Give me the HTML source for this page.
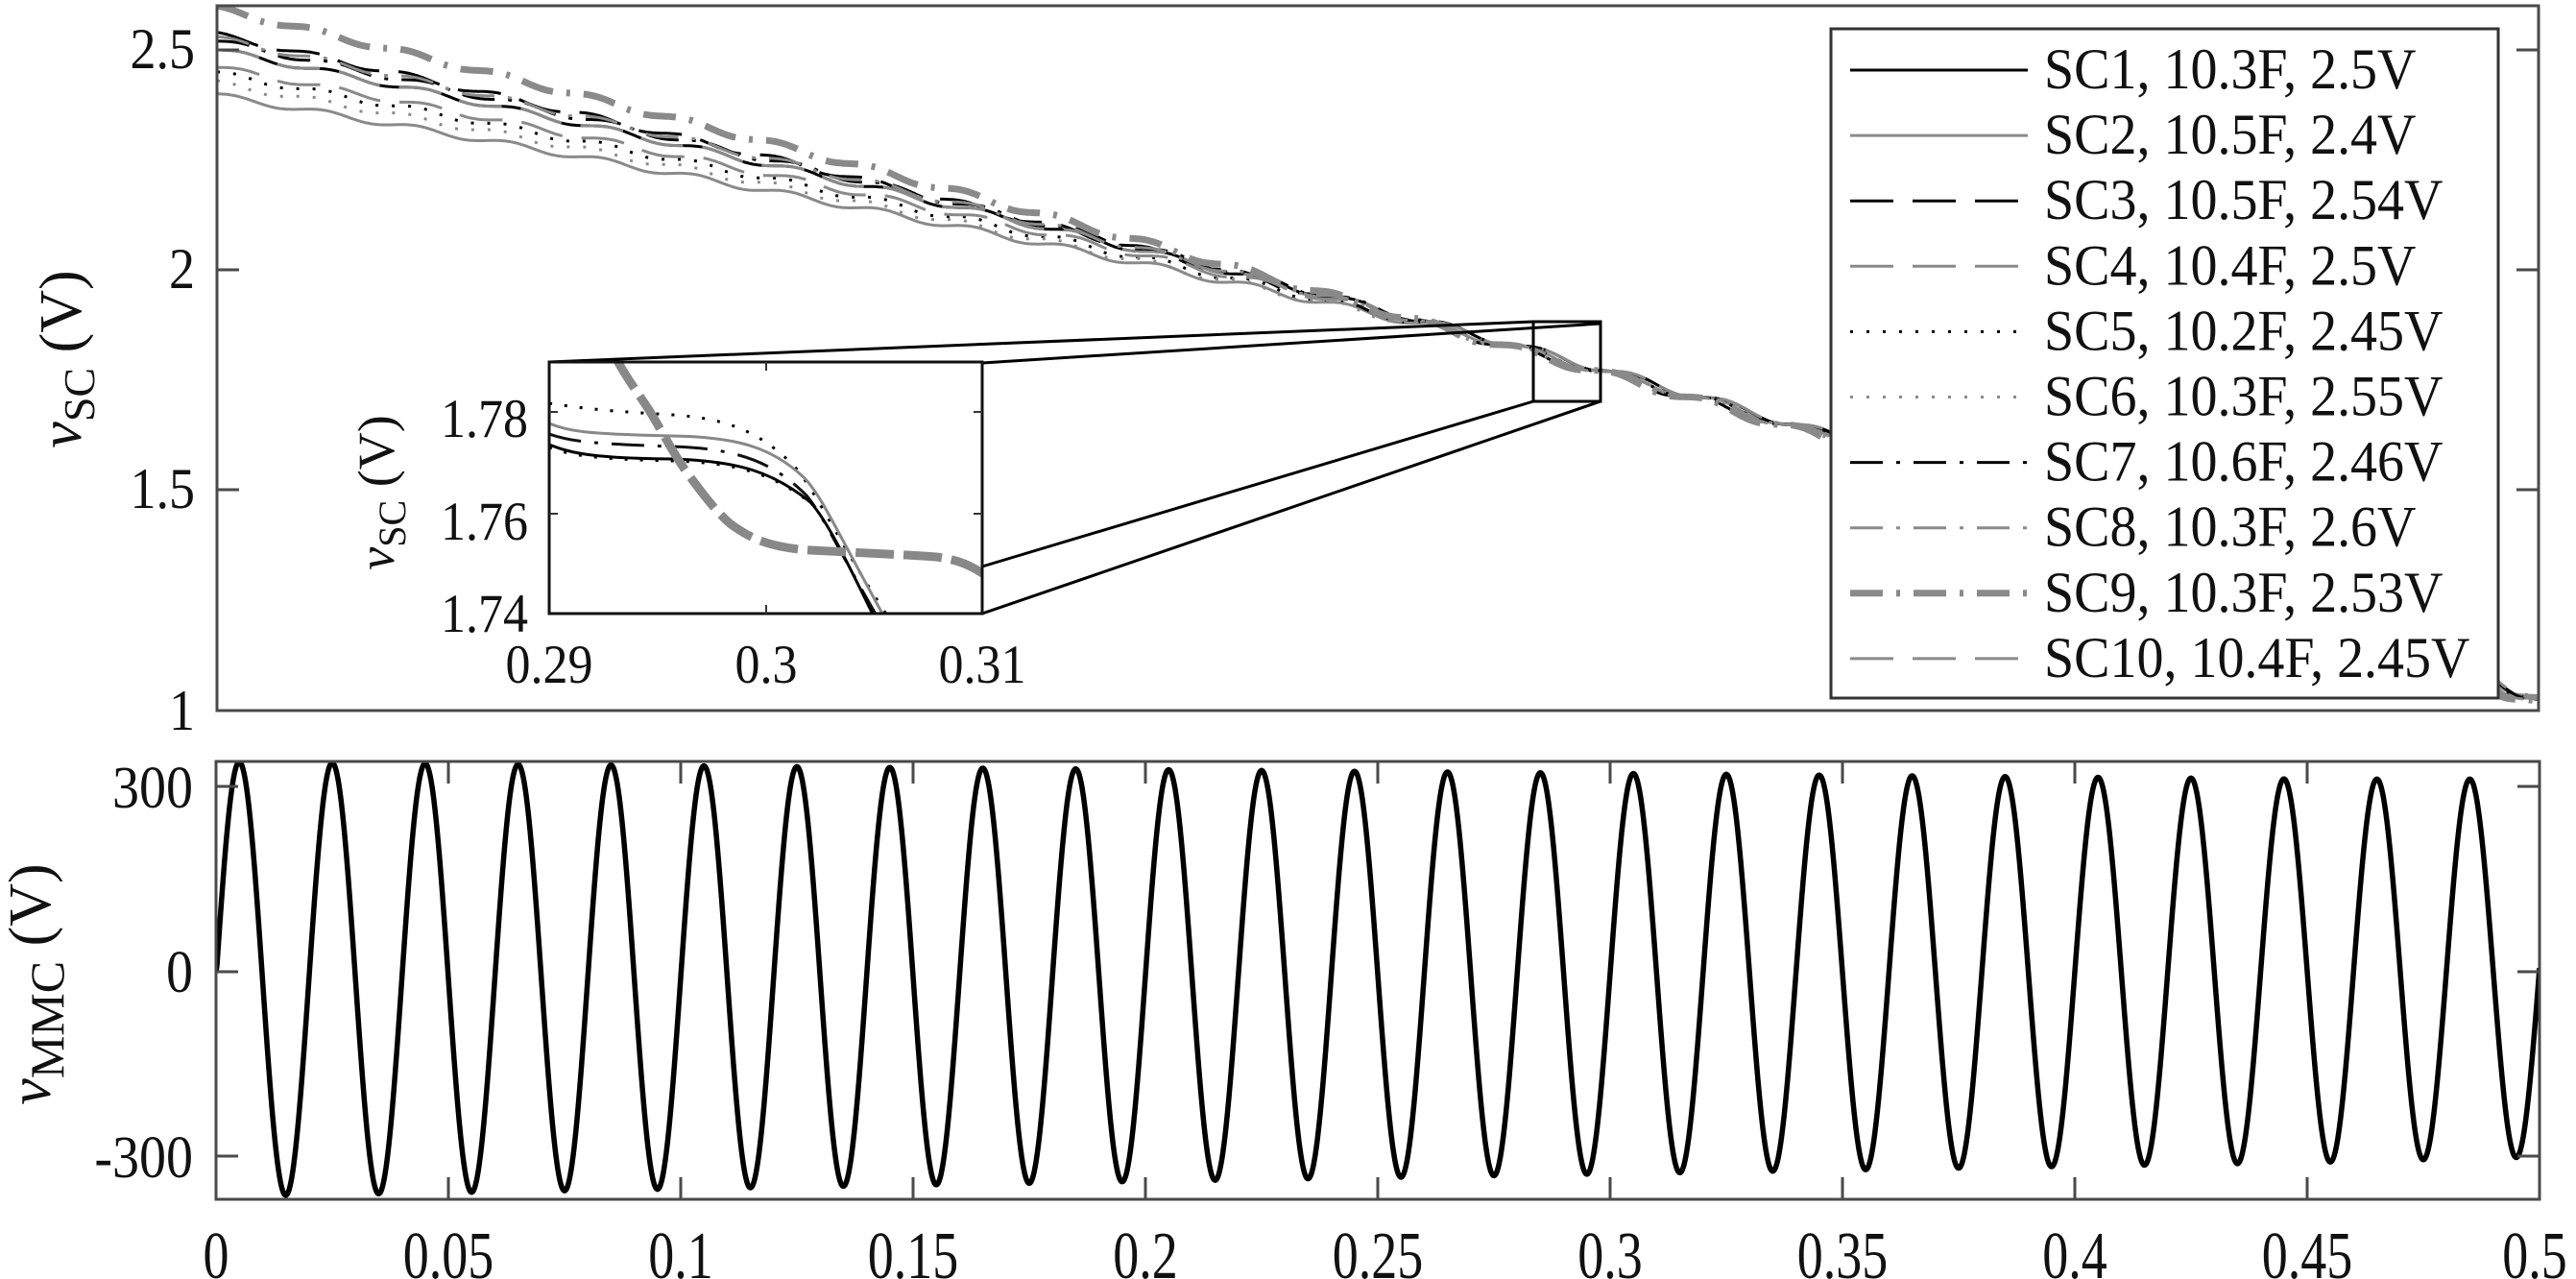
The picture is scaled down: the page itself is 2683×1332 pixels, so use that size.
<!DOCTYPE html>
<html><head><meta charset="utf-8"><style>
html,body{margin:0;padding:0;background:#fff;}
svg{display:block;}
text{font-family:"Liberation Serif",serif;fill:#111;}
</style></head><body>
<svg id="s" width="2683" height="1332" viewBox="0 0 2683 1332" xmlns="http://www.w3.org/2000/svg">
<defs>
<clipPath id="ctop"><rect x="226" y="6" width="2418" height="734"/></clipPath>
<clipPath id="cins"><rect x="572" y="377" width="451" height="262"/></clipPath>
<clipPath id="cbot"><rect x="225" y="793" width="2420" height="456"/></clipPath>
</defs>
<g id="topcurves" clip-path="url(#ctop)" fill="none"></g>
<rect x="226" y="6" width="2418" height="734" fill="none" stroke="#4a4a4a" stroke-width="3"/>
<g stroke="#4a4a4a" stroke-width="3">
<line x1="226" y1="52" x2="249" y2="52"/><line x1="226" y1="281" x2="249" y2="281"/><line x1="226" y1="510" x2="249" y2="510"/>
<line x1="2644" y1="52" x2="2621" y2="52"/><line x1="2644" y1="281" x2="2621" y2="281"/><line x1="2644" y1="510" x2="2621" y2="510"/>
</g>
<g font-size="54" text-anchor="end">
<text transform="translate(203,71) scale(1,1.12)">2.5</text>
<text transform="translate(203,300) scale(1,1.12)">2</text>
<text transform="translate(203,529) scale(1,1.12)">1.5</text>
<text transform="translate(203,760) scale(1,1.12)">1</text>
</g>
<text transform="translate(84,374) rotate(-90)" font-size="62" text-anchor="middle"><tspan font-style="italic">v</tspan><tspan font-size="46" dy="14">SC</tspan><tspan dy="-14"> (V)</tspan></text>

<g stroke="#000" stroke-width="3">
<line x1="572" y1="377" x2="1597" y2="335"/>
<line x1="1023" y1="378" x2="1667" y2="337"/>
<line x1="1023" y1="590" x2="1597" y2="418"/>
<line x1="1023" y1="639" x2="1667" y2="418"/>
</g>
<rect x="1597" y="335" width="70" height="83" fill="none" stroke="#000" stroke-width="3"/>

<rect x="572" y="377" width="451" height="262" fill="#fff"/>
<g clip-path="url(#cins)" fill="none" stroke-linecap="butt">
<path d="M572,420 C600,424 615,427 700,432 C760,436 790,450 825,483 C850,510 870,560 930,650" stroke="#000" stroke-width="3" stroke-dasharray="3,13"/>
<path d="M572,441 C595,450 615,452 700,454 C770,455 805,467 837,497 C855,515 870,550 925,650" stroke="#888" stroke-width="3"/>
<path d="M572,452 C595,460 615,462 700,465 C770,467 806,482 840,516 C856,535 872,570 918,650" stroke="#111" stroke-width="3" stroke-dasharray="34,14,4,14"/>
<path d="M572,463 C595,472 615,477 700,478 C770,480 806,492 844,523 C860,540 880,580 914,650" stroke="#000" stroke-width="3"/>
<path d="M572,466 C595,474 615,478 700,480 C770,482 806,494 846,525" stroke="#000" stroke-width="3" stroke-dasharray="3,13"/>
<path d="M640,370 C650,390 665,410 676,427 C690,450 700,470 714,490 C730,512 745,532 760,545 C780,560 800,570 844,573 C900,576 950,578 975,580 C1000,583 1012,590 1025,598" stroke="#888" stroke-width="9" stroke-dasharray="40,10"/>
</g>
<rect x="572" y="377" width="451" height="262" fill="none" stroke="#111" stroke-width="3"/>
<g stroke="#333" stroke-width="2">
<line x1="798" y1="377" x2="798" y2="386"/><line x1="798" y1="639" x2="798" y2="630"/>
<line x1="572" y1="429" x2="581" y2="429"/><line x1="572" y1="535" x2="581" y2="535"/>
<line x1="1023" y1="429" x2="1014" y2="429"/><line x1="1023" y1="535" x2="1014" y2="535"/>
</g>
<g font-size="52" text-anchor="end">
<text transform="translate(550,455) scale(1,1.1)">1.78</text>
<text transform="translate(550,562) scale(1,1.1)">1.76</text>
<text transform="translate(550,658) scale(1,1.1)">1.74</text>
</g>
<g font-size="52" text-anchor="middle">
<text transform="translate(572,711) scale(1,1.1)">0.29</text>
<text transform="translate(798,711) scale(1,1.1)">0.3</text>
<text transform="translate(1023,711) scale(1,1.1)">0.31</text>
</g>
<text transform="translate(410,513) rotate(-90)" font-size="54" text-anchor="middle"><tspan font-style="italic">v</tspan><tspan font-size="40" dy="12">SC</tspan><tspan dy="-12"> (V)</tspan></text>

<rect x="1907" y="30" width="695" height="697" fill="#fff" stroke="#333" stroke-width="3"/>
<g id="leg"></g>

<g clip-path="url(#cbot)"><path id="sine" fill="none" stroke="#000" stroke-width="5.5" stroke-linejoin="round"/></g>
<rect x="225" y="793" width="2420" height="456" fill="none" stroke="#4a4a4a" stroke-width="3"/>
<g id="bticks" stroke="#4a4a4a" stroke-width="3"></g>
<g font-size="56" text-anchor="end">
<text transform="translate(201,841) scale(1,1.12)">300</text>
<text transform="translate(201,1033) scale(1,1.12)">0</text>
<text transform="translate(201,1226) scale(1,1.12)">-300</text>
</g>
<g id="xlab" font-size="54" text-anchor="middle"></g>
<text transform="translate(52,1025) rotate(-90)" font-size="62" text-anchor="middle"><tspan font-style="italic">v</tspan><tspan font-size="50" dy="14">MMC</tspan><tspan dy="-14"> (V)</tspan></text>
</svg>
<script>
(function(){
var NS="http://www.w3.org/2000/svg";
function el(n,a,p){var e=document.createElementNS(NS,n);for(var k in a)e.setAttribute(k,a[k]);if(p)p.appendChild(e);return e;}
var G="#8a8a8a";
var sc=[
 {v0:2.50,c:"#000",w:3,d:""},
 {v0:2.40,c:G,w:3,d:""},
 {v0:2.54,c:"#000",w:3,d:"45,20"},
 {v0:2.50,c:G,w:3,d:"45,20"},
 {v0:2.45,c:"#000",w:3,d:"3,14"},
 {v0:2.43,c:G,w:3,d:"3,14"},
 {v0:2.52,c:"#000",w:3,d:"34,14,4,14"},
 {v0:2.53,c:G,w:3,d:"34,14,4,14"},
 {v0:2.60,c:G,w:7,d:"34,14,4,14"},
 {v0:2.46,c:G,w:3,d:"45,20"}
];
var labels=["SC1, 10.3F, 2.5V","SC2, 10.5F, 2.4V","SC3, 10.5F, 2.54V","SC4, 10.4F, 2.5V","SC5, 10.2F, 2.45V","SC6, 10.3F, 2.55V","SC7, 10.6F, 2.46V","SC8, 10.3F, 2.6V","SC9, 10.3F, 2.53V","SC10, 10.4F, 2.45V"];
var w=2*Math.PI*50;
function X(t){return 226+t*4836;}
function Y(v){return 739-(v-1)*458;}
var tc=document.getElementById("topcurves");
sc.forEach(function(s,i){
  var pts=[];
  for(var px=0;px<=2420;px+=2){
    var t=px/4836;
    var ph=(i%3)*0.6;
    var f=t-0.95*(Math.sin(w*t+ph)-Math.sin(ph))/w;
    var vb=Math.sqrt(Math.max(0.01,6.25-10.4*f));
    var g=t<0.27?(1-t/0.27):(-(t-0.27)/0.27*0.08);
    var v=vb+(s.v0-2.5)*g;
    pts.push(X(t).toFixed(1)+","+Y(v).toFixed(1));
  }
  var a={points:pts.join(" "),stroke:s.c,"stroke-width":s.w,fill:"none"};
  if(s.d)a["stroke-dasharray"]=s.d;
  el("polyline",a,tc);
});
var lg=document.getElementById("leg");
sc.forEach(function(s,i){
  var cy=73+i*68.1;
  var a={x1:1927,x2:2112,y1:cy,y2:cy,stroke:s.c,"stroke-width":s.w};
  if(s.d)a["stroke-dasharray"]=s.d;
  el("line",a,lg);
  var t=el("text",{transform:"translate(2129,"+(cy+19)+") scale(1,1.08)","font-size":56},lg);t.textContent=labels[i];
});
var d="";
for(var px=0;px<=2420;px++){
  var t=px/4840;
  var A=352-92*t;
  var off=-12+30*t;
  if(t>0.45)off+=(t-0.45)*60;
  var v=A*Math.sin(w*t)+off;
  if(px===0)v=0;
  var y=1012-v*0.643;
  d+=(px?"L":"M")+(225+px)+","+y.toFixed(1);
}
document.getElementById("sine").setAttribute("d",d);
var bt=document.getElementById("bticks"),xl=document.getElementById("xlab");
var xs=["0","0.05","0.1","0.15","0.2","0.25","0.3","0.35","0.4","0.45","0.5"];
for(var k=0;k<=10;k++){
  var x=225+k*242;
  if(k>0&&k<10){el("line",{x1:x,x2:x,y1:793,y2:816},bt);el("line",{x1:x,x2:x,y1:1249,y2:1226},bt);}
  var tx=el("text",{transform:"translate("+(k==10?2640:x)+",1331) scale(1,1.3)"},xl);tx.textContent=xs[k];
}
[819,1012,1204].forEach(function(y){el("line",{x1:225,x2:248,y1:y,y2:y},bt);el("line",{x1:2645,x2:2622,y1:y,y2:y},bt);});
})();
</script>
</body></html>
